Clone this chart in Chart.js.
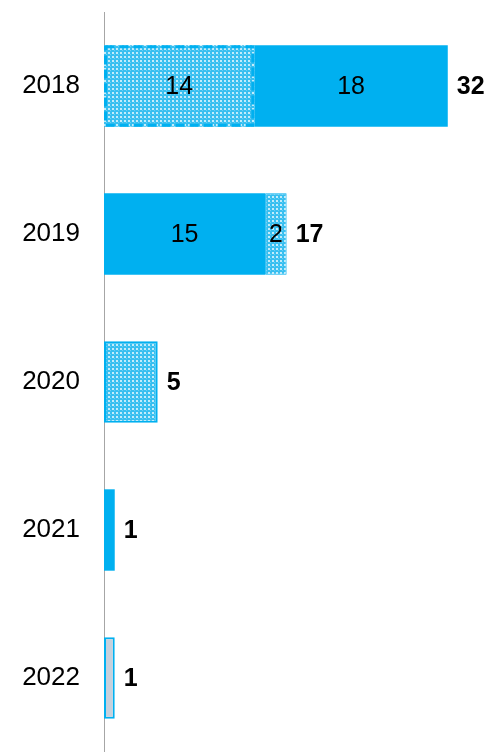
<!DOCTYPE html>
<html>
<head>
<meta charset="utf-8">
<script src="https://cdn.jsdelivr.net/npm/chart.js@4.4.1/dist/chart.umd.min.js"></script>
<style>
    html, body { margin: 0; padding: 0; background: #ffffff; }
    #wrap { width: 484px; height: 752px; }
</style>
</head>
<body>
<div id="wrap"><canvas id="chart"></canvas></div>
<script>
// Chart data
const years = ['2018', '2019', '2020', '2021', '2022'];
const firstSegment = [14, 15, 5, 1, 1];
const secondSegment = [18, 2, 0, 0, 0];
const firstKind = ['hatchDashed', 'solid', 'hatch', 'solid', 'grey'];
const secondKind = ['solid', 'hatch', 'none', 'none', 'none'];
const totals = [32, 17, 5, 1, 1];

const BLUE = '#00b0f0';
const FONT = "'Liberation Sans', Arial, sans-serif";

// Build the dotted light-blue fill
function makeHatch() {
    const c = document.createElement('canvas');
    c.width = 4;
    c.height = 4;
    const g = c.getContext('2d');
    g.fillStyle = '#38bff0';
    g.fillRect(0, 0, 4, 4);
    g.fillStyle = 'rgba(255,255,255,0.7)';
    g.fillRect(0, 0, 2, 2);
    g.fillStyle = 'rgba(255,255,255,0.25)';
    g.fillRect(2, 2, 1, 1);
    return g.createPattern(c, 'repeat');
}
const hatch = makeHatch();

function fillFor(kind) {
    if (kind === 'solid') return BLUE;
    if (kind === 'grey') return '#c6d0dc';
    if (kind === 'none') return 'rgba(0,0,0,0)';
    return hatch;
}

function borderFor(kind) {
    if (kind === 'hatch' || kind === 'grey') return 2;
    return 0;
}

// Labels inside segments, totals to the right, dashed outline
const barLabels = {
    id: 'barLabels',
    afterDatasetsDraw(chart) {
        const ctx = chart.ctx;
        const m0 = chart.getDatasetMeta(0).data;
        const m1 = chart.getDatasetMeta(1).data;
        ctx.save();

        // dashed outline
        years.forEach((y, i) => {
            if (firstKind[i] !== 'hatchDashed') return;
            const el = m0[i];
            const left = el.base;
            const h = el.height;
            ctx.strokeStyle = BLUE;
            ctx.lineWidth = 3;
            ctx.setLineDash([9, 5]);
            ctx.strokeRect(left + 1.5, el.y - h / 2 + 1.5, el.x - left - 3, h - 3);
        });
        ctx.setLineDash([]);

        ctx.fillStyle = '#000000';
        ctx.textBaseline = 'middle';
        years.forEach((y, i) => {
            if (firstSegment[i] > 0 && secondSegment[i] > 0) {
                ctx.font = '25px ' + FONT;
                ctx.textAlign = 'center';
                [m0[i], m1[i]].forEach((el, k) => {
                    const v = k === 0 ? firstSegment[i] : secondSegment[i];
                    ctx.fillText(String(v), (el.base + el.x) / 2, el.y + 1);
                });
            }
            const end = secondSegment[i] > 0 ? m1[i] : m0[i];
            ctx.font = 'bold 25px ' + FONT;
            ctx.textAlign = 'left';
            ctx.fillText(String(totals[i]), end.x + 9, end.y + 1);
        });
        ctx.restore();
    }
};

new Chart(document.getElementById('chart'), {
    type: 'bar',
    data: {
        labels: years,
        datasets: [
            {
                data: firstSegment,
                backgroundColor: firstKind.map(fillFor),
                borderColor: BLUE,
                borderWidth: firstKind.map(borderFor),
                borderSkipped: false,
                barPercentage: 0.55,
                categoryPercentage: 1
            },
            {
                data: secondSegment,
                backgroundColor: secondKind.map(fillFor),
                borderColor: BLUE,
                borderWidth: secondKind.map(k => k === 'hatch' ? 1 : 0),
                borderSkipped: false,
                barPercentage: 0.55,
                categoryPercentage: 1
            }
        ]
    },
    options: {
        indexAxis: 'y',
        responsive: true,
        maintainAspectRatio: false,
        animation: false,
        layout: { padding: { top: 12, right: 4, bottom: 0, left: 0 } },
        plugins: {
            legend: { display: false },
            tooltip: { enabled: false }
        },
        scales: {
            x: {
                stacked: true,
                display: false,
                min: 0,
                max: 35
            },
            y: {
                stacked: true,
                grid: { display: false, drawTicks: false },
                border: { display: true, color: '#a6a6a6', width: 1 },
                ticks: {
                    color: '#000000',
                    padding: 24,
                    font: { family: FONT, size: 26 }
                },
                afterFit(scale) {
                    scale.width = 104;
                    scale.paddingTop = 0;
                    scale.paddingBottom = 0;
                }
            }
        }
    },
    plugins: [barLabels]
});
</script>
</body>
</html>
